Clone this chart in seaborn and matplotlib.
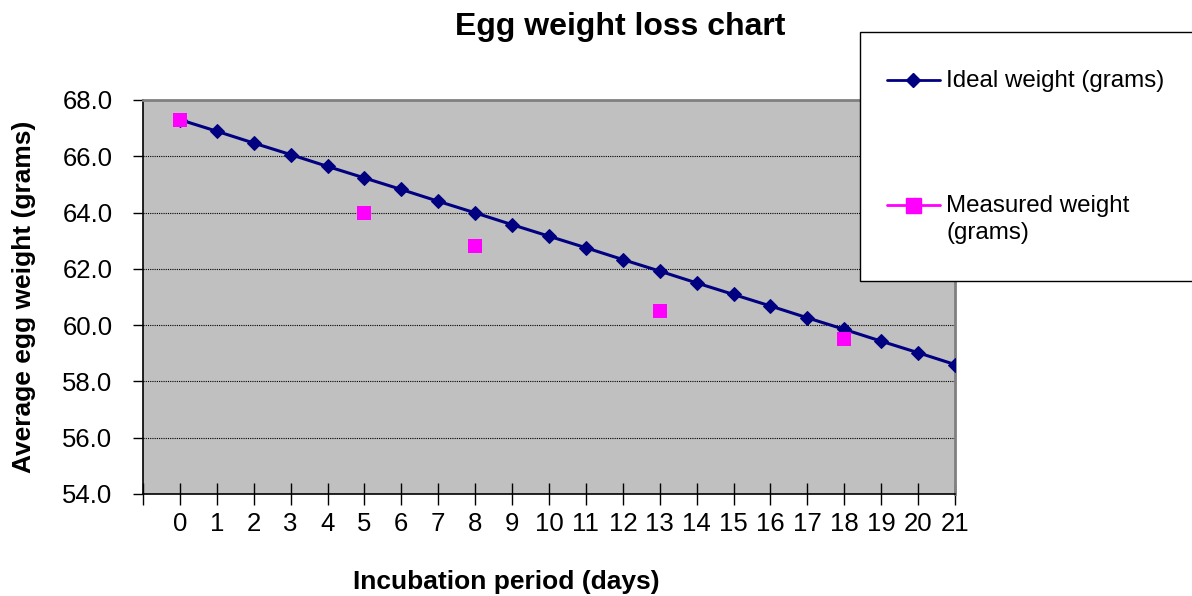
import matplotlib
matplotlib.use("Agg")
import matplotlib.pyplot as plt
from matplotlib.lines import Line2D
from matplotlib.patches import Rectangle
import seaborn as sns
import pandas as pd

# Data
days = list(range(22))
ideal_weight = [67.30, 66.89, 66.47, 66.06, 65.64, 65.23, 64.82, 64.40, 63.99, 63.57, 63.16,
                62.75, 62.33, 61.92, 61.50, 61.09, 60.68, 60.26, 59.85, 59.43, 59.02, 58.60]
measured_days = [0, 5, 8, 13, 18]
measured_weight = [67.3, 64.0, 62.8, 60.5, 59.5]
y_ticks = [54, 56, 58, 60, 62, 64, 66, 68]

ideal_df = pd.DataFrame({"day": days, "weight": ideal_weight})
measured_df = pd.DataFrame({"day": measured_days, "weight": measured_weight})

sns.set_style("white")
plt.rcParams["font.family"] = ["Liberation Sans", "DejaVu Sans"]
plt.rcParams["text.color"] = "black"
plt.rcParams["axes.labelcolor"] = "black"
plt.rcParams["xtick.color"] = "black"
plt.rcParams["ytick.color"] = "black"

W, H = 1192, 596
fig = plt.figure(figsize=(W / 100, H / 100), dpi=100)
ax = fig.add_axes([143 / W, 1 - 494 / H, (955 - 143) / W, (494 - 100) / H])
ax.set_facecolor("#C0C0C0")

navy = "#000080"
magenta = "#FF00FF"

sns.lineplot(data=ideal_df, x="day", y="weight", ax=ax, color=navy, linewidth=2.2,
             marker="D", markersize=7.2, markeredgecolor=navy, legend=False, zorder=3)
sns.scatterplot(data=measured_df, x="day", y="weight", ax=ax, color=magenta, marker="s",
                s=116, edgecolor=magenta, linewidth=0, legend=False, zorder=4)

ax.set_xlim(-1, 21)
ax.set_ylim(54, 68)
ax.set_xticks(range(-1, 22))
ax.set_xticklabels([""] + [str(d) for d in days])
ax.set_yticks(y_ticks)
ax.set_yticklabels([f"{v:.1f}" for v in y_ticks])
ax.grid(axis="y", color="black", linestyle=(0, (1, 1)), linewidth=0.8)
ax.set_axisbelow(True)

ax.tick_params(axis="x", bottom=True, direction="inout", length=16, width=1,
               labelsize=18.5, pad=5)
ax.tick_params(axis="y", left=True, direction="out", length=7, width=1,
               labelsize=18.5, pad=15)

for side in ["left", "bottom"]:
    ax.spines[side].set_color("black")
    ax.spines[side].set_linewidth(1.2)
for side in ["top", "right"]:
    ax.spines[side].set_color("#808080")
    ax.spines[side].set_linewidth(2)

ax.set_xlabel("Incubation period (days)", fontsize=19, fontweight="bold")
ax.set_ylabel("Average egg weight (grams)", fontsize=19, fontweight="bold")
ax.xaxis.set_label_coords((506 - 143) / 812, (494 - 570) / 394)
ax.yaxis.set_label_coords((36 - 143) / 812, 0.5)
fig.text(620 / W, 1 - 27 / H, "Egg weight loss chart", fontsize=23, fontweight="bold",
         ha="center", va="center")

# Legend box (runs off the right edge like the original)
box = Rectangle((860 / W, 1 - 281 / H), 400 / W, (281 - 32) / H,
                transform=fig.transFigure, facecolor="white", edgecolor="black",
                linewidth=1, zorder=10, clip_on=False)
fig.patches.append(box)

legend_entries = [
    (navy, "D", 7.2, "Ideal weight (grams)", 80),
    (magenta, "s", 10.8, "Measured weight\n(grams)", 205),
]
for color, marker, ms, label, ypx in legend_entries:
    fig.add_artist(Line2D([887 / W, 940 / W], [1 - ypx / H, 1 - ypx / H],
                          transform=fig.transFigure, color=color, linewidth=2, zorder=11))
    fig.add_artist(Line2D([913 / W], [1 - ypx / H], transform=fig.transFigure,
                          color=color, marker=marker, markersize=ms,
                          markeredgecolor=color, linestyle="none", zorder=12))
    fig.text(946 / W, 1 - (ypx - 10) / H, label, fontsize=17.4, ha="left", va="top",
             linespacing=1.3, zorder=12)

fig.savefig("out.png", dpi=100)
